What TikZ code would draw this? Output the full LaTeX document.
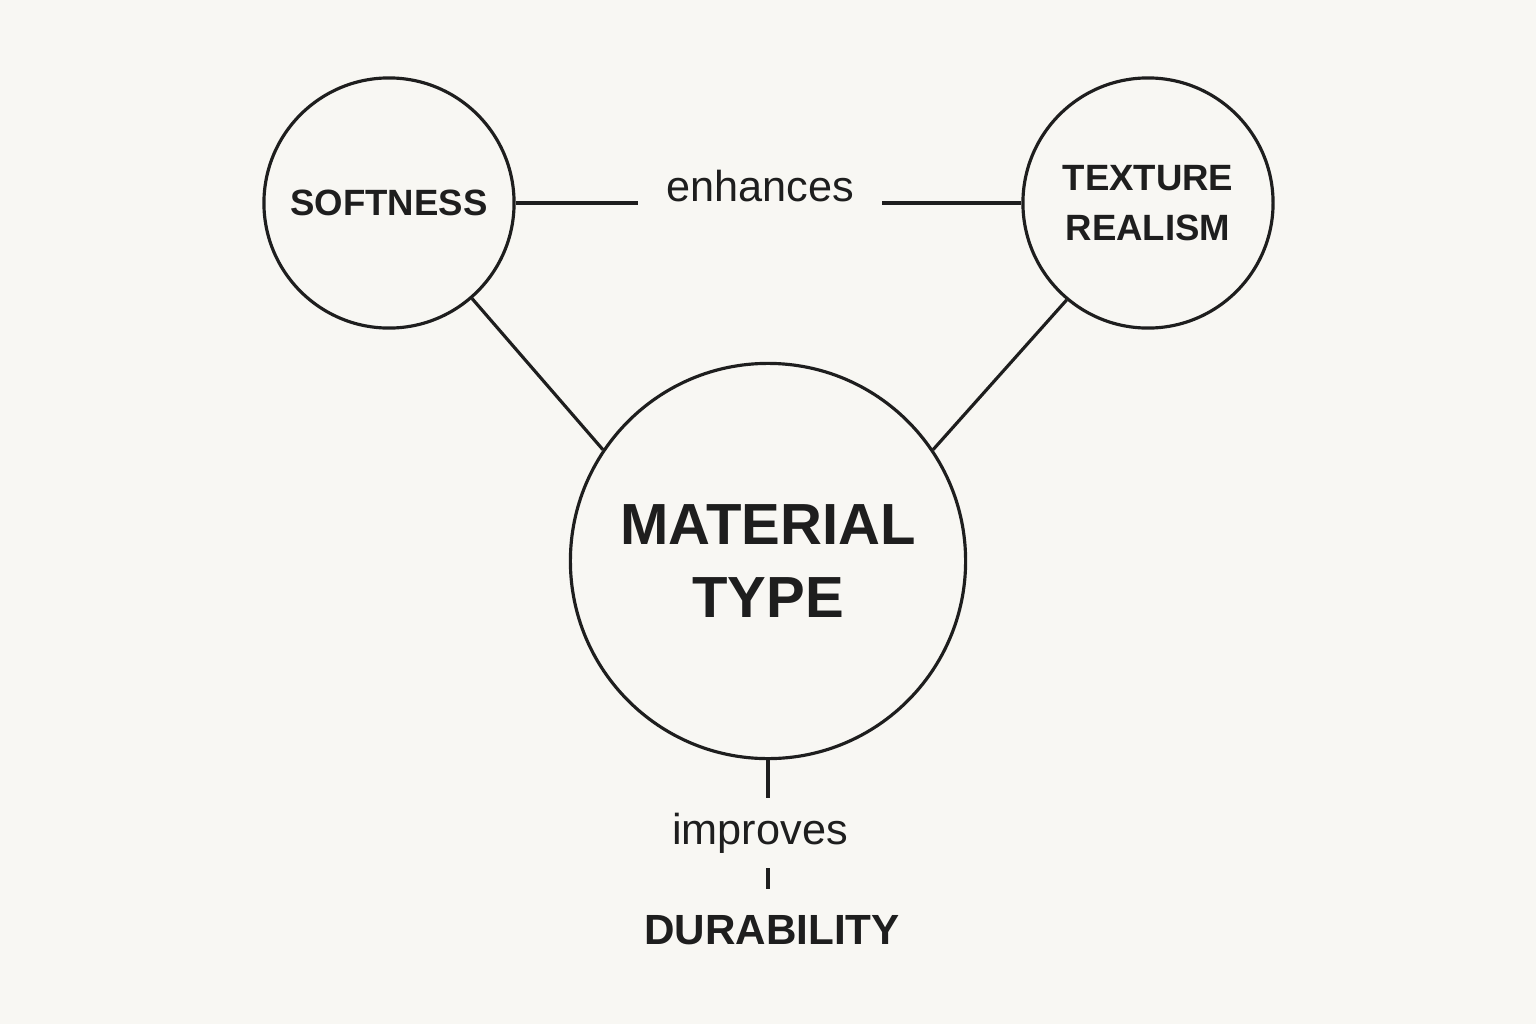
\documentclass[tikz,border=0pt]{standalone}
\usepackage{fontspec}
\setmainfont{Liberation Sans}
\usetikzlibrary{calc}
\definecolor{paper}{HTML}{F8F7F3}
\definecolor{ink}{HTML}{1E1E1E}

\begin{document}
\begin{tikzpicture}[
		x={(0.01cm,0cm)},
		y={(0cm,-0.01cm)},
		line width=0.9pt,
		color=ink,
		bubble/.style={circle, draw, minimum size=2.5cm, inner sep=0pt, align=center,
			font=\fontsize{10.4}{14.2}\selectfont\bfseries},
		core/.style={circle, draw, minimum size=3.95cm, inner sep=0pt, align=center,
			font=\fontsize{16.5}{20.5}\selectfont\bfseries},
		rel/.style={font=\fontsize{12.3}{14}\selectfont, text height=0.32cm, text depth=0.09cm,
			inner xsep=0.27cm, inner ysep=0.13cm},
		term/.style={font=\fontsize{12}{15}\selectfont\bfseries, inner xsep=0pt, inner ysep=0.25cm}
		]
		
		% paper
		\fill[paper] (0,0) rectangle (1536,1024);
		
		% the three circles
		\node[bubble] (soft) at (389,203) {SOFTNESS};
		\node[bubble] (tex) at (1148,203) {TEXTURE\\REALISM};
		\node[core] (mat) at (768,561) {MATERIAL\\TYPE};
		
		% relation labels
		\node[rel] (enh) at (760,190) {enhances};
		\node[rel] (imp) at (760,833) {improves};
		\node[term] (dur) at (772,930) {DURABILITY};
		
		% top link
		\draw (soft.east) -- (soft.east -| enh.west);
		\draw (enh.east |- tex.west) -- (tex.west);
		
		% links to material type
		\draw (soft.-49) -- (mat.146);
		\draw (tex.-130) -- (mat.34);
		
		% bottom link
		\draw (mat.south) -- (mat.south |- imp.north);
		\draw (mat.south |- imp.south) -- (mat.south |- dur.north);
		
	\end{tikzpicture}
\end{document}
